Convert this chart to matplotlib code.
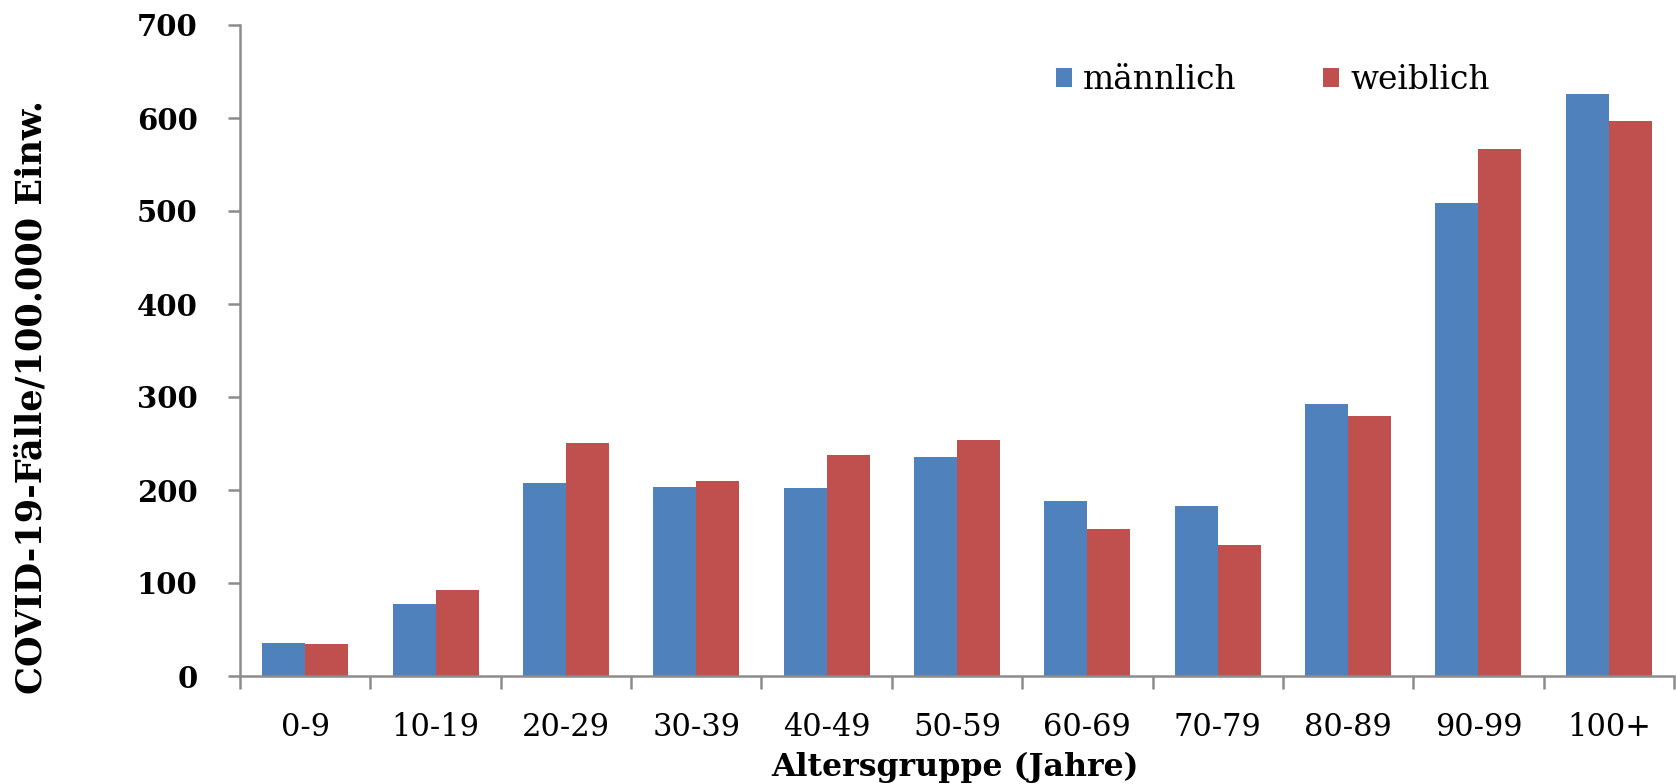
import matplotlib
matplotlib.use("Agg")
import matplotlib.pyplot as plt
import numpy as np
from matplotlib.patches import Patch

# Age groups and case rates per 100,000 inhabitants
age_groups = ["0-9", "10-19", "20-29", "30-39", "40-49", "50-59",
              "60-69", "70-79", "80-89", "90-99", "100+"]
male = [36, 77, 208, 203, 202, 235, 188, 183, 292, 509, 626]
female = [34, 93, 251, 210, 238, 254, 158, 141, 280, 567, 597]
y_ticks = [0, 100, 200, 300, 400, 500, 600, 700]

series_names = ["männlich", "weiblich"]
colors = ["#4F81BD", "#C0504D"]
axis_grey = "#8C8C8C"

W, H, DPI = 1676, 784, 100
fig = plt.figure(figsize=(W / DPI, H / DPI), dpi=DPI)
ax = fig.add_axes([240 / W, 1 - 676 / H, 1434 / W, (676 - 25) / H])

x = np.arange(len(age_groups))
bw = 0.33
ax.bar(x - bw / 2, male, width=bw, color=colors[0], linewidth=0)
ax.bar(x + bw / 2, female, width=bw, color=colors[1], linewidth=0)

ax.set_xlim(-0.5, len(age_groups) - 0.5)
ax.set_ylim(0, 700)

for side in ("top", "right"):
    ax.spines[side].set_visible(False)
for side in ("left", "bottom"):
    ax.spines[side].set_color(axis_grey)
    ax.spines[side].set_linewidth(1.8)

# y axis
ax.set_yticks(y_ticks)
ax.set_yticklabels([str(v) for v in y_ticks], family="DejaVu Serif",
                   fontweight="bold", fontsize=21)
ax.tick_params(axis="y", direction="out", length=9, width=1.8,
               color=axis_grey, pad=21.5)

# x axis: labels at category centres, tick marks between categories
ax.set_xticks(x)
ax.set_xticklabels(age_groups, family="DejaVu Serif", fontsize=22)
ax.tick_params(axis="x", which="major", length=0, pad=26)
ax.set_xticks(np.arange(-0.5, len(age_groups), 1.0), minor=True)
ax.tick_params(axis="x", which="minor", direction="out", length=9,
               width=1.8, color=axis_grey)

fig.text(955 / W, 1 - 767 / H, "Altersgruppe (Jahre)", ha="center",
         va="center", family="DejaVu Serif", fontweight="bold", fontsize=22.8)
fig.text(32 / W, 1 - 397 / H, "COVID-19-Fälle/100.000 Einw.", ha="center",
         va="center", rotation=90, family="DejaVu Serif",
         fontweight="bold", fontsize=25.3)

handles = [Patch(facecolor=c, edgecolor="none") for c in colors]
leg = fig.legend(handles, series_names, loc="center left",
                 bbox_to_anchor=(1056 / W, 1 - 80 / H), ncol=2,
                 frameon=False, borderpad=0, borderaxespad=0,
                 handlelength=0.49, handleheight=0.49, handletextpad=0.33,
                 columnspacing=2.63,
                 prop={"family": "DejaVu Serif", "size": 23.7})

fig.savefig("out.png", dpi=DPI, facecolor="white")
